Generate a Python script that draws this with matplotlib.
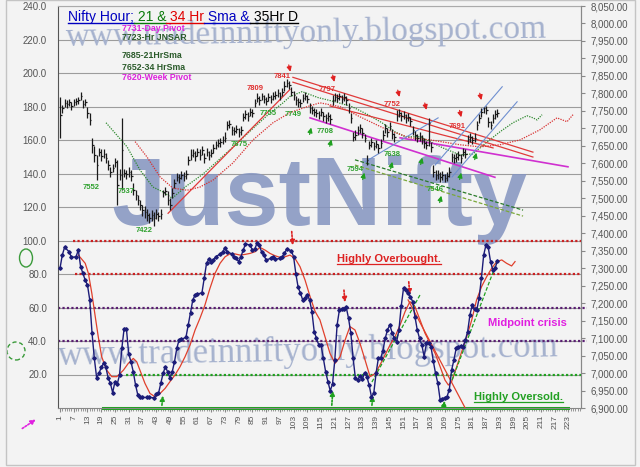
import matplotlib
matplotlib.use('Agg')
import matplotlib.pyplot as plt
from matplotlib.lines import Line2D
from matplotlib.patches import Ellipse, Rectangle
import numpy as np

W, H = 640, 467
plt.rcParams['font.family'] = ['Liberation Sans', 'DejaVu Sans']

# ── Data ───────────────────────────────────────────────────────────────────────
# hourly Nifty bars (hour 1..192)
CLOSE = [
    7739, 7759, 7773, 7770, 7776, 7765, 7776, 7779, 7782, 7793,
    7770, 7776, 7745, 7724, 7653, 7624, 7595, 7633, 7621, 7627,
    7615, 7595, 7575, 7587, 7604, 7538, 7567, 7638, 7572, 7569,
    7575, 7564, 7523, 7509, 7495, 7480, 7466, 7460, 7451, 7443,
    7451, 7443, 7454, 7448, 7454, 7518, 7521, 7495, 7480, 7515,
    7543, 7561, 7558, 7567, 7564, 7569, 7610, 7624, 7630, 7621,
    7633, 7624, 7638, 7615, 7633, 7624, 7630, 7644, 7653, 7659,
    7661, 7667, 7673, 7710, 7713, 7696, 7693, 7699, 7690, 7696,
    7733, 7742, 7736, 7747, 7745, 7773, 7788, 7782, 7793, 7785,
    7779, 7791, 7785, 7793, 7796, 7802, 7793, 7805, 7822, 7830,
    7825, 7805, 7796, 7782, 7776, 7773, 7788, 7793, 7785, 7759,
    7753, 7747, 7745, 7739, 7747, 7736, 7730, 7736, 7727, 7782,
    7791, 7788, 7793, 7785, 7791, 7782, 7759, 7730, 7676, 7681,
    7696, 7701, 7687, 7673, 7610, 7653, 7661, 7650, 7656, 7644,
    7659, 7681, 7701, 7690, 7707, 7684, 7676, 7736, 7745, 7736,
    7739, 7730, 7733, 7721, 7696, 7681, 7673, 7678, 7667, 7659,
    7653, 7716, 7647, 7575, 7567, 7569, 7561, 7567, 7558, 7564,
    7575, 7618, 7615, 7618, 7624, 7615, 7633, 7627, 7670, 7676,
    7667, 7673, 7710, 7730, 7747, 7759, 7753, 7719, 7710, 7730,
    7740, 7745,
]
HIGH = [
    7791, 7768, 7785, 7780, 7784, 7775, 7785, 7788, 7790, 7805,
    7782, 7785, 7760, 7745, 7672, 7650, 7625, 7645, 7640, 7640,
    7630, 7610, 7590, 7598, 7615, 7610, 7585, 7730, 7585, 7580,
    7588, 7580, 7545, 7525, 7510, 7495, 7480, 7478, 7468, 7458,
    7465, 7460, 7468, 7462, 7470, 7525, 7532, 7520, 7500, 7528,
    7555, 7572, 7570, 7578, 7575, 7580, 7620, 7640, 7642, 7635,
    7645, 7640, 7650, 7630, 7645, 7635, 7642, 7655, 7665, 7670,
    7672, 7678, 7690, 7722, 7724, 7708, 7704, 7710, 7702, 7708,
    7745, 7752, 7748, 7758, 7756, 7785, 7800, 7793, 7802, 7796,
    7790, 7800, 7796, 7803, 7806, 7812, 7803, 7815, 7835, 7841,
    7836, 7818, 7808, 7793, 7788, 7785, 7798, 7803, 7796, 7772,
    7765, 7758, 7756, 7750, 7758, 7748, 7742, 7747, 7740, 7795,
    7800, 7797, 7802, 7795, 7800, 7793, 7772, 7745, 7690, 7695,
    7708, 7712, 7700, 7685, 7625, 7665, 7672, 7662, 7668, 7656,
    7670, 7695, 7712, 7702, 7718, 7698, 7688, 7752, 7756, 7748,
    7750, 7742, 7745, 7733, 7708, 7693, 7685, 7690, 7680, 7671,
    7665, 7730, 7660, 7594, 7580, 7581, 7575, 7579, 7570, 7576,
    7588, 7630, 7627, 7630, 7636, 7628, 7645, 7640, 7682, 7688,
    7679, 7686, 7722, 7742, 7758, 7762, 7765, 7732, 7722, 7742,
    7752, 7755,
]
LOW = [
    7672, 7745, 7760, 7758, 7764, 7752, 7764, 7768, 7770, 7780,
    7758, 7763, 7730, 7710, 7630, 7605, 7552, 7620, 7608, 7614,
    7600, 7580, 7562, 7574, 7590, 7480, 7553, 7523, 7560, 7556,
    7562, 7550, 7508, 7495, 7480, 7465, 7450, 7444, 7436, 7428,
    7436, 7422, 7440, 7435, 7440, 7505, 7508, 7480, 7466, 7500,
    7530, 7548, 7545, 7555, 7550, 7556, 7596, 7610, 7617, 7608,
    7620, 7610, 7625, 7600, 7620, 7610, 7617, 7630, 7640, 7646,
    7648, 7655, 7660, 7696, 7700, 7682, 7680, 7686, 7675, 7682,
    7720, 7728, 7722, 7734, 7732, 7760, 7775, 7768, 7780, 7772,
    7766, 7778, 7772, 7780, 7783, 7790, 7780, 7792, 7808, 7818,
    7812, 7792, 7782, 7768, 7762, 7760, 7774, 7780, 7772, 7745,
    7740, 7734, 7732, 7726, 7734, 7722, 7716, 7722, 7712, 7768,
    7778, 7775, 7780, 7772, 7778, 7768, 7744, 7716, 7664, 7668,
    7682, 7688, 7673, 7660, 7594, 7640, 7648, 7637, 7643, 7630,
    7645, 7668, 7688, 7676, 7694, 7670, 7662, 7722, 7732, 7722,
    7726, 7716, 7720, 7708, 7682, 7668, 7660, 7664, 7654, 7645,
    7640, 7650, 7632, 7560, 7553, 7555, 7546, 7553, 7546, 7550,
    7562, 7604, 7602, 7605, 7610, 7602, 7620, 7614, 7656, 7662,
    7654, 7660, 7696, 7716, 7733, 7745, 7740, 7705, 7697, 7716,
    7728, 7732,
]
BAR_X = np.arange(1, len(CLOSE) + 1)

# oscillator (left axis) as (hour, value)
OSC = [
    (1, 83.4), (2, 91.3), (3, 95.9), (5, 93.3), (6, 89.9), (8, 90.3), (9, 94.3),
    (10, 84.4), (11, 80.4), (12, 76.4), (13, 73.4), (14, 64.5), (15, 44.6),
    (16, 29.6), (17, 18.1), (18, 20.6), (19, 24.2), (20, 26.6), (21, 24.6),
    (22, 18.1), (23, 14.7), (24, 9.2), (25, 15.7), (26, 14.3), (27, 19.7),
    (28, 35.6), (29, 47.4), (30, 47.4), (31, 32.4), (32, 27.6), (33, 21.6),
    (34, 13.7), (35, 7.7), (36, 6.7), (37, 6.3), (39, 6.3), (40, 6.3), (42, 6.1),
    (43, 8.3), (44, 8.7), (45, 14.7), (46, 20.6), (47, 24.6), (48, 21.6),
    (49, 18.1), (50, 21.6), (51, 27.6), (52, 35.6), (53, 40.6), (54, 41.0),
    (56, 42.2), (57, 49.6), (58, 57.0), (59, 64.5), (60, 67.5), (61, 67.9),
    (63, 68.9), (64, 77.5), (65, 86.4), (66, 88.8), (67, 87.4), (68, 88.4),
    (69, 90.3), (71, 92.0), (72, 93.3), (73, 95.3), (74, 93.3), (76, 92.0),
    (77, 90.3), (78, 89.3), (79, 87.4), (80, 90.3), (81, 94.3), (82, 97.9),
    (84, 97.3), (85, 94.3), (86, 94.7), (87, 98.3), (88, 97.3), (89, 93.3),
    (90, 91.3), (91, 88.4), (93, 89.3), (94, 90.3), (95, 88.8), (97, 89.3),
    (98, 90.3), (99, 92.3), (100, 94.9), (102, 93.9), (103, 90.3), (104, 80.0),
    (105, 72.0), (106, 68.5), (107, 64.5), (108, 65.5), (109, 67.5), (110, 64.5),
    (111, 57.6), (112, 45.6), (113, 41.6), (114, 37.6), (115, 37.6), (116, 29.6),
    (117, 21.6), (118, 15.7), (119, 10.3), (120, 14.3), (121, 28.7), (122, 49.6),
    (123, 58.5), (124, 59.1), (125, 59.1), (126, 60.1), (127, 53.5), (128, 44.6),
    (129, 29.6), (130, 17.7), (131, 16.7), (132, 19.3), (133, 17.1), (134, 21.1),
    (135, 18.7), (136, 13.7), (137, 6.7), (138, 8.7), (139, 20.6), (140, 29.6),
    (141, 29.6), (142, 34.2), (143, 41.6), (144, 46.6), (145, 49.6), (146, 45.0),
    (147, 41.6), (148, 39.6), (149, 46.6), (150, 60.9), (151, 71.5), (152, 70.5),
    (153, 68.5), (154, 66.5), (155, 63.5), (156, 54.5), (157, 46.6), (158, 41.6),
    (159, 37.6), (160, 30.6), (161, 38.6), (162, 38.6), (163, 36.6), (164, 28.0),
    (165, 20.6), (166, 14.7), (167, 4.8), (168, 5.4), (169, 6.2), (170, 6.8),
    (171, 11.0), (172, 22.6), (173, 28.7), (174, 35.6), (175, 36.2), (176, 37.0),
    (177, 36.6), (178, 40.6), (179, 45.6), (180, 55.5), (181, 61.5), (182, 58.9),
    (183, 58.5), (184, 65.5), (185, 77.4), (186, 91.3), (187, 97.3), (188, 95.9),
    (189, 87.4), (190, 82.4), (191, 83.5), (192, 87.9),
]
# smoothed signal of the oscillator
SIGNAL = [
    (9, 91.3), (12, 86.4), (13.4, 80.4), (14.9, 68.5), (16.4, 54.5), (17.7, 42.6),
    (19.2, 30.6), (21.4, 22.6), (23.6, 18.7), (25.8, 18.7), (28.7, 22.6),
    (30.8, 26.6), (33, 29.6), (34.5, 27.6), (35.9, 22.6), (38.1, 14.7), (40.3, 8.7),
    (42.5, 6.7), (44.7, 8.7), (46.9, 11.7), (49, 15.7), (51.2, 19.7), (53.4, 24.6),
    (55.6, 30.6), (57.8, 37.6), (60, 46.6), (62.1, 53.5), (64.3, 61.5), (66.5, 71.5),
    (68.7, 80.4), (70.9, 86.4), (73.1, 90.3), (75.2, 92), (77.4, 92), (79.6, 91.3),
    (81.8, 91.7), (84, 92.3), (86.2, 93.3), (88.3, 95.9), (90.5, 94.3), (92.7, 92.3),
    (94.9, 90.9), (97.1, 89.9), (99.3, 90.3), (101.4, 91.3), (103.6, 89.3),
    (105.8, 84.4), (108, 76.4), (110.2, 66.5), (112.4, 57.6), (114.5, 52.6),
    (116.7, 42.6), (118.9, 32.6), (121.1, 26.6), (123.3, 30.6), (125.5, 40.6),
    (127.6, 48.6), (129.8, 46.6), (132, 38.6), (134.2, 28.7), (136.4, 18.7),
    (138.6, 20.6), (140.7, 25.6), (142.9, 31.6), (145.1, 37.6), (147.3, 42.6),
    (149.5, 49.6), (151.7, 57.6), (153.8, 63.5), (156, 60.5), (158.2, 52.6),
    (160.4, 44.6), (162.6, 38.6), (164.8, 32.6), (167, 24.6), (169.1, 16.7),
    (170.6, 13.7), (172, 15.7), (174.2, 24.6), (176.4, 33.6), (178.6, 42.6),
    (180.8, 52.6), (182.9, 64.5), (185.1, 72.5), (187.3, 78.4), (189.5, 83.4),
    (191.7, 87.4), (193.9, 88.4), (196, 86.4), (198.2, 84.8), (199.7, 87.4),
]
# 21 hr and 34 hr sma (price axis)
SMA21 = [
    (21.1, 7716), (30.3, 7647), (35.9, 7581), (41.6, 7532), (46, 7518), (50, 7500),
    (56, 7534), (63.4, 7569), (70.9, 7613), (78.3, 7657), (85.3, 7700), (92.7, 7744),
    (98.4, 7773), (101.4, 7791), (106.7, 7805), (113.7, 7788), (121.1, 7776),
    (128.5, 7762), (135.5, 7739), (141.6, 7716), (147.3, 7690), (151.7, 7676),
    (158.2, 7676), (168.2, 7644), (175.7, 7624), (181.3, 7627), (187.5, 7661),
    (193.1, 7690), (198.8, 7716), (204.9, 7736), (207.6, 7730), (209.3, 7724),
    (211.5, 7739),
]
SMA34 = [
    (33.8, 7662), (39, 7618), (44.7, 7561), (50.3, 7529), (56.5, 7523), (62.1, 7532),
    (67.8, 7552), (76.5, 7601), (85.3, 7667), (94, 7716), (101.4, 7745), (108.9, 7762),
    (114.5, 7773), (123.3, 7762), (132, 7733), (143.8, 7696), (153.8, 7673),
    (162.6, 7667), (175.7, 7653), (184.4, 7647), (193.1, 7653), (201.9, 7667),
    (210.6, 7696), (218, 7730), (222.4, 7719), (225, 7739),
]

# trend lines: (hour0, price0, hour1, price1)
RED_TRENDS = [(48.2, 7457, 101.4, 7811), (102.7, 7846, 207.5, 7632),
              (102.7, 7832, 207.5, 7618), (118.9, 7764, 190.1, 7644)]
PINK_TRENDS = [(110.2, 7730, 190.9, 7560), (149.5, 7673, 222.8, 7590)]
GREEN_TRENDS = [(129.8, 7610, 203.2, 7466), (129.8, 7595, 203.2, 7449)]
BLUE_TRENDS = [(164.8, 7595, 194.1, 7819), (172.2, 7561, 200.6, 7776),
               (134.2, 7604, 166.1, 7730)]
# oscillator trend lines
OSC_RED_TRENDS = [(153, 64.5, 178.7, -2)]
OSC_GREEN_TRENDS = [(137.2, 15.5, 158.2, 67.5), (172.2, 16.7, 191.8, 87.2)]

# swing labels (text, hour, price)
PEAK_LABELS = [('7841', 97.9, 7847), ('7809', 86.2, 7813), ('7797', 117.6, 7811),
               ('7752', 146, 7768), ('7691', 174.4, 7704)]
TROUGH_LABELS = [('7755', 91.8, 7742), ('7749', 102.7, 7739), ('7675', 79.2, 7655),
                 ('7552', 14.5, 7532), ('7537', 29.8, 7518), ('7422', 37.7, 7408),
                 ('7708', 116.7, 7690), ('7638', 146, 7624), ('7594', 129.8, 7581),
                 ('7546', 164.8, 7526)]
# arrow tips (hour, price)
RED_ARROWS = [(101.9, 7854), (121.1, 7825), (149.5, 7782), (161.3, 7745),
              (176.5, 7724), (185.3, 7773)]
GREEN_ARROWS = [(111, 7710), (119.8, 7676), (134.2, 7581), (146.4, 7612),
                (159.5, 7624), (167.8, 7515), (176.5, 7581), (183.1, 7638)]
# oscillator arrows (hour, from, to)
OSC_RED_ARROWS = [(102.7, 107, 95.5), (125.5, 72, 61.5), (153.8, 77, 66)]
OSC_GREEN_ARROWS = [(46, 0, 9), (120.2, 0, 12), (137.7, 0, 9), (169.1, 0, 6)]

# oscillator levels: (value, colour, start hour, end hour)
LEVELS = [(100, '#cc2020', 6.8, 228.5), (80, '#cc2020', 7.6, 228.5),
          (60, '#5a1f72', 0.2, 231), (40, '#5a1f72', 0.2, 231),
          (20, '#1fa01f', 30, 228.5)]

TITLE_PARTS = [('Nifty Hour;', '#0000c0'), (' 21 &', '#0a7a0a'), (' 34 Hr', '#e00000'),
               (' Sma &', '#0000c0'), (' 35Hr D', '#000000')]
PIVOTS = [('7731-Day Pivot', '#dd22dd', 28.5), ('7723-Hr JNSAR', '#2a5a2a', 37.5),
          ('7685-21HrSma', '#2a5a2a', 56), ('7652-34 HrSma', '#2a5a2a', 67),
          ('7620-Week Pivot', '#dd22dd', 78)]


def fx(px):
    return px / W


def fy(py):
    return 1 - py / H


# ── Figure ─────────────────────────────────────────────────────────────────────
fig = plt.figure(figsize=(W / 100, H / 100), dpi=100, facecolor='#f3f3f3')
ax = fig.add_axes([fx(58), fy(408), (581 - 58) / W, (408 - 6) / H])
ax.set_facecolor('#f3f3f3')
ax2 = ax.twinx()

ax.set_xlim(0.13, 228.5)
ax.set_ylim(0, 240)
ax2.set_ylim(6900, 8050)

ax.set_yticks(range(20, 241, 20))
ax.set_yticklabels([f'{v:.1f}' for v in range(20, 241, 20)])
ax.tick_params(axis='y', length=0, pad=8, labelsize=7, labelcolor='#555555')
ax.set_xticks(range(1, 224, 6))
ax.set_xticklabels([str(v) for v in range(1, 224, 6)], rotation=90)
ax.set_xticks(range(1, 229), minor=True)
ax.tick_params(axis='x', which='major', length=3, color='#888888', labelsize=6,
               labelcolor='#555555', pad=2)
ax.tick_params(axis='x', which='minor', length=2, color='#888888')
ax2.set_yticks(np.arange(6900, 8051, 50))
ax2.set_yticklabels([f'{v:,.2f}' for v in np.arange(6900, 8051, 50)])
ax2.tick_params(axis='y', length=3, color='#888888', labelsize=7,
                labelcolor='#555555', pad=4)

ax.set_axisbelow(True)
ax.grid(axis='y', color='#9c9c9c', lw=0.8)
for side, col in [('left', '#555555'), ('bottom', '#888888'), ('right', '#888888'), ('top', '#aaaaaa')]:
    ax.spines[side].set_color(col)
for side in ['left', 'top', 'bottom']:
    ax2.spines[side].set_visible(False)
ax2.spines['right'].set_color('#888888')

# ── Watermarks ─────────────────────────────────────────────────────────────────
ax.text(fx(320), fy(225), 'JustNifty', transform=fig.transFigure,
        family='Liberation Sans', fontsize=70, fontweight='bold', color='#8494c0',
        alpha=0.85, ha='center', va='baseline', zorder=1, clip_on=False)
ax.text(fx(306), fy(33), 'www.tradeinniftyonly.blogspot.com', transform=fig.transFigure,
        family=['Liberation Serif', 'DejaVu Serif'], fontsize=24, color='#a6b2ce',
        ha='center', va='center', rotation=1, zorder=1, clip_on=False)
ax.text(fx(308), fy(352), 'www.tradeinniftyonly.blogspot.com', transform=fig.transFigure,
        family=['Liberation Serif', 'DejaVu Serif'], fontsize=25, color='#a6b2ce',
        ha='center', va='center', rotation=1, zorder=1, clip_on=False)

# ── Oscillator panel (left axis) ───────────────────────────────────────────────
for val, col, x0, x1 in LEVELS:
    ax.plot([x0, x1], [val, val], color=col, lw=1.6, ls=(0, (1, 1)), zorder=2,
            clip_on=False)
ax.plot([19.8, 223], [0, 0], color='#1fa01f', lw=2.2, zorder=2, clip_on=False)

ox, oy = zip(*OSC)
ax.plot(ox, oy, color='#1c1c78', lw=1.0, marker='D', ms=1.8, zorder=4)
sx, sy = zip(*SIGNAL)
ax.plot(sx, sy, color='#e0402c', lw=0.9, zorder=3)
for x0, y0, x1, y1 in OSC_RED_TRENDS:
    ax.plot([x0, x1], [y0, y1], color='#e0402c', lw=0.9, zorder=3)
for x0, y0, x1, y1 in OSC_GREEN_TRENDS:
    ax.plot([x0, x1], [y0, y1], color='#1fa01f', lw=0.9, ls=(0, (3, 1.5)), zorder=3)
for x, y0, y1 in OSC_RED_ARROWS:
    ax.annotate('', xy=(x, y1), xytext=(x - 0.6, y0), annotation_clip=False,
                arrowprops=dict(arrowstyle='-|>', color='#dd2020', lw=1.2,
                                ls=(0, (1, 1)), mutation_scale=7))
for x, y0, y1 in OSC_GREEN_ARROWS:
    ax.annotate('', xy=(x, y1), xytext=(x - 0.6, y0), annotation_clip=False,
                arrowprops=dict(arrowstyle='-|>', color='#1fa01f', lw=1.2,
                                ls=(0, (1, 1)), mutation_scale=7))

# ── Price panel (right axis) ───────────────────────────────────────────────────
s21x, s21y = zip(*SMA21)
ax2.plot(s21x, s21y, color='#2f8a2f', lw=0.9, ls=(0, (1, 1)), zorder=2)
s34x, s34y = zip(*SMA34)
ax2.plot(s34x, s34y, color='#d83030', lw=0.9, ls=(0, (1, 1)), zorder=2)
for x0, y0, x1, y1 in RED_TRENDS:
    ax2.plot([x0, x1], [y0, y1], color='#e03a3a', lw=0.9, zorder=2)
for x0, y0, x1, y1 in PINK_TRENDS:
    ax2.plot([x0, x1], [y0, y1], color='#d030d0', lw=1.2, zorder=2)
for (x0, y0, x1, y1), col in zip(GREEN_TRENDS, ['#2a7a2a', '#7aa83a']):
    ax2.plot([x0, x1], [y0, y1], color=col, lw=0.9, ls=(0, (3, 1.5)), zorder=2)
for x0, y0, x1, y1 in BLUE_TRENDS:
    ax2.plot([x0, x1], [y0, y1], color='#6f8fd0', lw=0.8, zorder=2)

ax2.vlines(BAR_X, LOW, HIGH, color='#1a1a1a', lw=0.9, zorder=3)
ax2.hlines(CLOSE, BAR_X, BAR_X + 0.7, color='#1a1a1a', lw=0.9, zorder=3)

for s, x, y in PEAK_LABELS:
    ax2.text(x, y, s, color='#e03030', fontsize=5.5, fontweight='bold',
             ha='center', va='center', zorder=5)
for s, x, y in TROUGH_LABELS:
    ax2.text(x, y, s, color='#2ea02e', fontsize=5.5, fontweight='bold',
             ha='center', va='center', zorder=5)
for x, y in RED_ARROWS:
    ax2.annotate('', xy=(x, y), xytext=(x - 1.3, y + 35),
                 arrowprops=dict(arrowstyle='-|>', color='#e02020', lw=0.9,
                                 mutation_scale=7))
for x, y in GREEN_ARROWS:
    ax2.annotate('', xy=(x, y), xytext=(x - 1.3, y - 35),
                 arrowprops=dict(arrowstyle='-|>', color='#1fa01f', lw=0.9,
                                 mutation_scale=7))

# ── Texts ──────────────────────────────────────────────────────────────────────
r = fig.canvas.get_renderer()
x = fx(68)
for s, col in TITLE_PARTS:
    t = fig.text(x, fy(21), s, color=col, fontsize=10, va='baseline')
    bb = t.get_window_extent(renderer=r)
    fig.add_artist(Line2D([bb.x0 / W, bb.x1 / W], [fy(23)] * 2, color=col, lw=1))
    x = bb.x1 / W

for s, col, y in PIVOTS:
    fig.text(fx(122), fy(y), s, color=col, fontsize=6.3, fontweight='bold', va='center')


def underlined(px, py, s, col):
    t = fig.text(fx(px), fy(py), s, color=col, fontsize=8, fontweight='bold',
                 va='baseline')
    bb = t.get_window_extent(renderer=r)
    fig.add_artist(Line2D([bb.x0 / W, bb.x1 / W], [fy(py + 2)] * 2, color=col, lw=0.9))


underlined(337, 262, 'Highly Overbought.', '#dd2222')
underlined(474, 400, 'Highly Oversold.', '#22a022')
fig.text(fx(488), fy(326), 'Midpoint crisis', color='#e020e0', fontsize=8,
         fontweight='bold', va='baseline')

# side marks
fig.add_artist(Ellipse((fx(26), fy(258)), 13 / W, 18 / H, transform=fig.transFigure,
                       fill=False, ec='#3a9a3a', lw=1))
fig.add_artist(Ellipse((fx(16), fy(351)), 18 / W, 18 / H, transform=fig.transFigure,
                       fill=False, ec='#3a9a3a', lw=1, ls=(0, (3, 2))))
ax.annotate('', xy=(38, H - 418), xycoords='figure pixels', xytext=(20, H - 430),
            textcoords='figure pixels', annotation_clip=False,
            arrowprops=dict(arrowstyle='-|>', color='#e020e0', lw=1.2,
                            ls=(0, (1, 1)), mutation_scale=7))
fig.add_artist(Rectangle((fx(6), fy(465)), (635 - 6) / W, 465 / H,
                         transform=fig.transFigure, fill=False, ec='#c4c4c4', lw=1))

fig.savefig('out.png', dpi=100, facecolor=fig.get_facecolor())
